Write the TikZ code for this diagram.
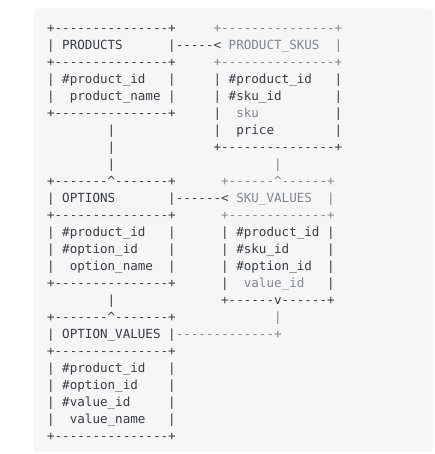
\documentclass[tikz,border=0pt]{standalone}
\usepackage{fontspec}
\setmonofont{DejaVu Sans Mono}
\definecolor{codebg}{HTML}{F6F6F6}
\definecolor{asciidark}{HTML}{383D45}
\definecolor{asciigrey}{HTML}{80868F}
\newcommand\grtok[1]{\textcolor{asciigrey}{#1}}
\tikzset{
  asciirow/.style={anchor=base west, inner sep=0pt, text=asciidark,
    font=\ttfamily\fontsize{12.57}{17}\selectfont},
}
\begin{document}
\begin{tikzpicture}[x=1pt,y=-1pt]
\useasboundingbox (0,0) rectangle (435,454);
\fill[codebg,rounded corners=3pt] (33.5,8.5) rectangle (432.5,452);

% products / product_skus
\node[asciirow] (row0) at (46.9,32.5) {+---------------+~~~~~\grtok{+---------------+}};
\node[asciirow] (row1) at (46.9,49.5) {|~PRODUCTS~~~~~~|-----<~\grtok{PRODUCT\_SKUS~~|}};
\node[asciirow] (row2) at (46.9,66.5) {+---------------+~~~~~\grtok{+---------------+}};
\node[asciirow] (row3) at (46.9,83.5) {|~\#product\_id~~~|~~~~~|~\#product\_id~~~|};
\node[asciirow] (row4) at (46.9,100.5) {|~~product\_name~|~~~~~|~\#sku\_id~~~~~~~|};
\node[asciirow] (row5) at (46.9,117.5) {+---------------+~~~~~|~~\grtok{sku}~~~~~~~~~~|};
\node[asciirow] (row6) at (46.9,134.5) {~~~~~~~~|~~~~~~~~~~~~~|~~price~~~~~~~~|};
\node[asciirow] (row7) at (46.9,151.5) {~~~~~~~~|~~~~~~~~~~~~~+---------------+};
\node[asciirow] (row8) at (46.9,168.5) {~~~~~~~~|~~~~~~~~~~~~~~~~~~~~~\grtok{|}};

% options / sku_values
\node[asciirow] (row9) at (46.9,185.5) {+-------\textasciicircum-------+~~~~~~\grtok{+------\textasciicircum------+}};
\node[asciirow] (row10) at (46.9,202.5) {|~OPTIONS~~~~~~~|------<~\grtok{SKU\_VALUES~~|}};
\node[asciirow] (row11) at (46.9,219.5) {+---------------+~~~~~~\grtok{+-------------+}};
\node[asciirow] (row12) at (46.9,236.5) {|~\#product\_id~~~|~~~~~~|~\#product\_id~|};
\node[asciirow] (row13) at (46.9,253.5) {|~\#option\_id~~~~|~~~~~~|~\#sku\_id~~~~~|};
\node[asciirow] (row14) at (46.9,270.5) {|~~option\_name~~|~~~~~~|~\#option\_id~~|};
\node[asciirow] (row15) at (46.9,287.5) {+---------------+~~~~~~|~~\grtok{value\_id}~~~|};
\node[asciirow] (row16) at (46.9,304.5) {~~~~~~~~|~~~~~~~~~~~~~~+------v------+};
\node[asciirow] (row17) at (46.9,321.5) {+-------\textasciicircum-------+~~~~~~~~~~~~~\grtok{|}};

% option_values
\node[asciirow] (row18) at (46.9,338.5) {|~OPTION\_VALUES~|\grtok{-------------+}};
\node[asciirow] (row19) at (46.9,355.5) {+---------------+};
\node[asciirow] (row20) at (46.9,372.5) {|~\#product\_id~~~|};
\node[asciirow] (row21) at (46.9,389.5) {|~\#option\_id~~~~|};
\node[asciirow] (row22) at (46.9,406.5) {|~\#value\_id~~~~~|};
\node[asciirow] (row23) at (46.9,423.5) {|~~value\_name~~~|};
\node[asciirow] (row24) at (46.9,440.5) {+---------------+};
\end{tikzpicture}
\end{document}
